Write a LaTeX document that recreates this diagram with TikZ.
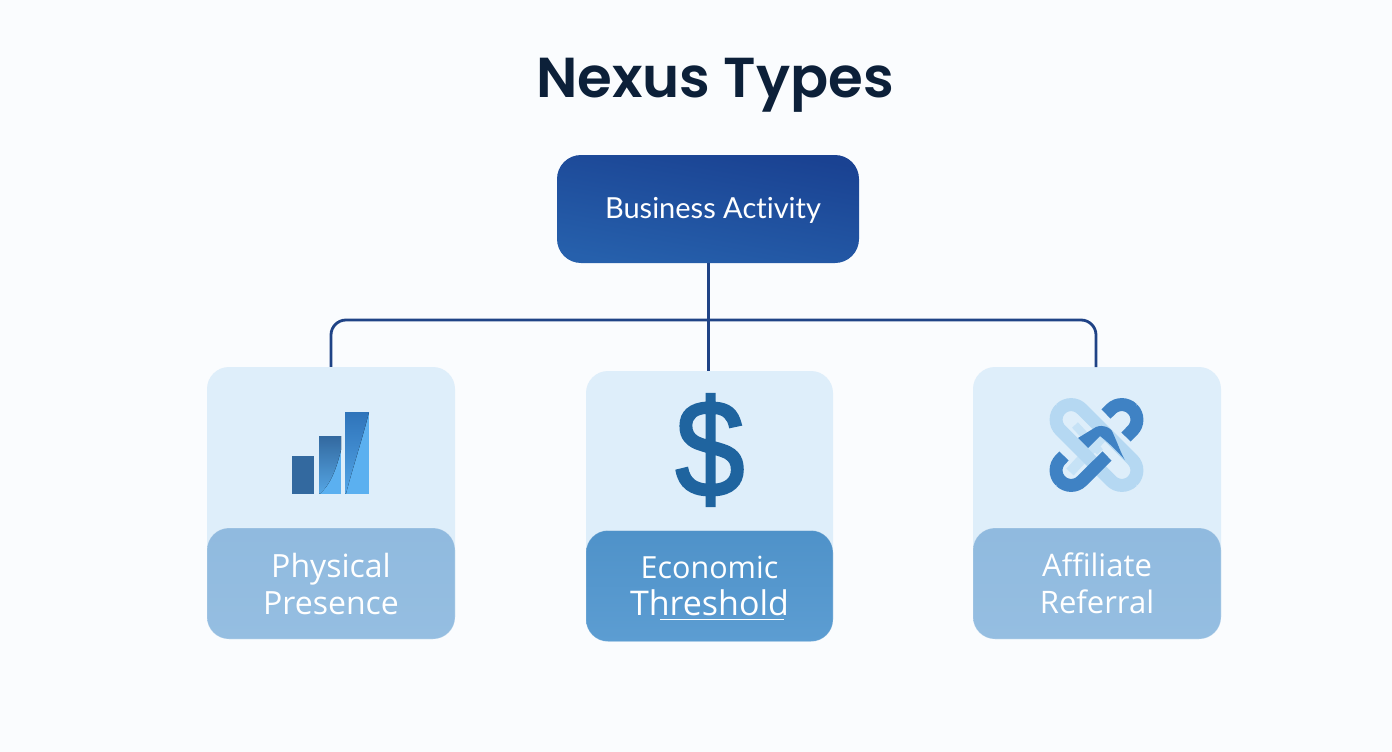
\documentclass[tikz,border=0pt]{standalone}
\usepackage{fontspec}
\setmainfont{Open Sans}
\newfontfamily\titlefont{Poppins SemiBold}
\newfontfamily\rootfont{Lato}[Ligatures=NoCommon]
\newfontfamily\dollarfont{Liberation Sans}[FakeBold=2]
\definecolor{bgc}{HTML}{FAFCFE}
\definecolor{titlec}{HTML}{0C2039}
\definecolor{rootA}{HTML}{1A4292}
\definecolor{rootB}{HTML}{2660AC}
\definecolor{linec}{HTML}{1F4386}
\definecolor{cardc}{HTML}{DEEEFA}
\definecolor{bandA}{HTML}{90BADF}
\definecolor{bandB}{HTML}{95BEE1}
\definecolor{bandC}{HTML}{4F92C9}
\definecolor{bandD}{HTML}{5C9DD2}
\definecolor{barA}{HTML}{33699F}
\definecolor{barB}{HTML}{2F74BA}
\definecolor{barL}{HTML}{5BB0F0}
\definecolor{dollarc}{HTML}{1F649F}
\definecolor{linkD}{HTML}{3F82C4}
\definecolor{linkL}{HTML}{B5D8F2}
\definecolor{linkM}{HTML}{C6E2F6}
\tikzset{
  card/.style={rectangle,rounded corners=22pt,minimum width=248pt,minimum height=272pt,inner sep=0pt,fill=cardc},
  band/.style={rectangle,rounded corners=22pt,minimum width=248pt,minimum height=111pt,inner sep=0pt,
    text=white,align=center,font=\fontsize{32}{37}\selectfont,draw=white,draw opacity=.25,line width=.6pt},
  conn/.style={draw=linec,line width=2.8pt},
}
\begin{document}
\begin{tikzpicture}[x=1pt,y=-1pt]
\useasboundingbox (0,0) rectangle (1392,752);
\fill[bgc] (0,0) rectangle (1392,752);
\node[text=titlec,font=\titlefont\fontsize{56.3}{60}\selectfont] (title) at (715,85) {Nexus Types};
\node[rectangle,rounded corners=24pt,minimum width=302pt,minimum height=108pt,inner sep=0pt,
  top color=rootA,bottom color=rootB,shading angle=-10] (root) at (708,209) {};
\node[text=white,font=\rootfont\fontsize{29}{34}\selectfont] (rootlabel) at (713,210) {Business Activity};
\node[card] (c1) at (331,503) {};
\node[card,minimum width=247pt,minimum height=270pt] (c2) at (709.5,506) {};
\node[card] (c3) at (1097,503) {};
\coordinate (hub) at (708.5,320);
\draw[conn] (hub |- root.south) -- (hub |- c2.north);
\draw[conn,rounded corners=15pt] (c1.north) |- (hub) -| (1096,367);
\node[band,top color=bandA,bottom color=bandB] (b1) at (331,583.5) {Physical\\Presence};
\node[band,minimum width=247pt,top color=bandC,bottom color=bandD] (b2) at (709.5,586) {{\fontsize{30.5}{37}\selectfont Economic}\\{\fontsize{34}{37}\selectfont Threshold}};
\node[band,font=\fontsize{31}{37}\selectfont,top color=bandA,bottom color=bandB] (b3) at (1097,583.5) {Affiliate\\Referral};
\draw[white,line width=1pt] (660,619) -- (784,619);
% bars
\fill[barA] (292,456) rectangle (313.5,493.5);
\fill[barL] (319,436) rectangle (341,493.5);
\fill[top color=barA,bottom color=barL!85!barA] (319,436) -- (341,436) -- (341,450) .. controls (336,470) and (330,485) .. (320,493.5) -- (319,493.5) -- cycle;
\fill[barL] (345,412) rectangle (369,493.5);
\fill[top color=barB,bottom color=barL!80!barB] (345,412) -- (369,412) .. controls (362,440) and (352,470) .. (346,493.5) -- (345,493.5) -- cycle;
% dollar
\node[text=dollarc,inner sep=0pt,xscale=.9,font=\dollarfont\fontsize{138}{138}\selectfont] (dollar) at (710,450) {\$};
% link icon
\begin{scope}[line width=13pt]
\draw[linkM,line width=10pt] (1070,472) -- (1106,433);
\draw[linkM,line width=8pt] (1075,425) -- (1100,452);
\draw[linkL,rounded corners=15pt] (1143.1,470.4) -- (1121.9,491.6) -- (1049.9,419.6) -- (1071.1,398.4) -- cycle;
\draw[linkD,rounded corners=15pt] (1106,414) -- (1121.9,398.4) -- (1143.1,419.6) -- (1126,437);
\draw[linkD,rounded corners=15pt] (1064,456) -- (1049.9,470.4) -- (1071.1,491.6) -- (1107,456);
\end{scope}
\fill[linkD] (1078,438) -- (1096,427) .. controls (1104,424) and (1110,428) .. (1112,431) .. controls (1118,444) and (1122,456) .. (1125,460) .. controls (1118,452) and (1108,442) .. (1100,436) -- (1088,448) -- cycle;
\end{tikzpicture}
\end{document}
